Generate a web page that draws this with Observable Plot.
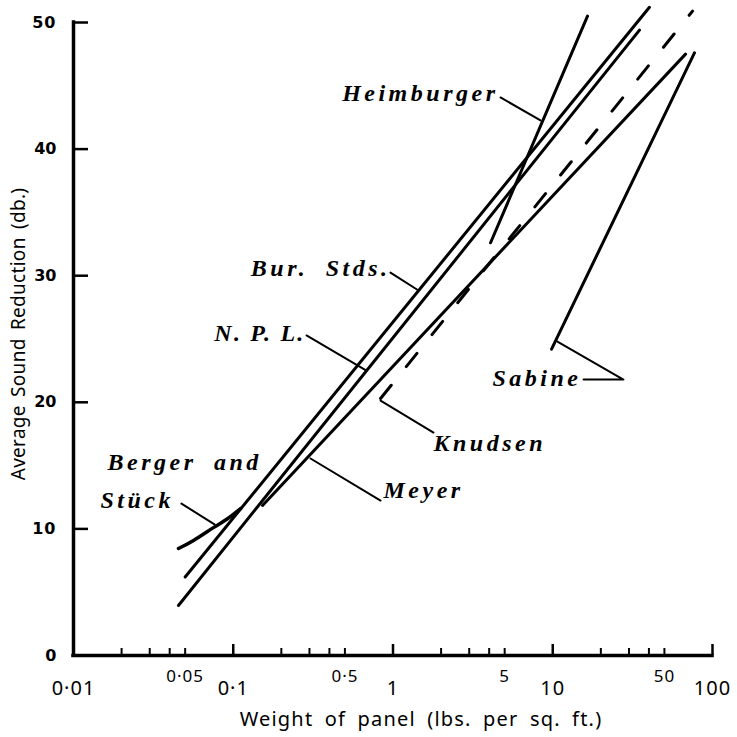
<!DOCTYPE html>
<html><head><meta charset="utf-8">
<script src="https://cdn.jsdelivr.net/npm/d3@7"></script>
<script src="https://cdn.jsdelivr.net/npm/@observablehq/plot@0.6"></script>
<style>
body{margin:0;background:#fff}
#chart svg{display:block}
</style>
</head><body><div id="chart"></div>
<script>
// ---- ticks ----
const xMajorTicks = [0.01, 0.1, 1, 10, 100];
const xMajorLabels = ["0·01", "0·1", "1", "10", "100"];
const xHalfTicks = [0.05, 0.5, 5, 50];
const xHalfLabels = ["0·05", "0·5", "5", "50"];
const xMinorTicks = [0.02, 0.03, 0.04, 0.05, 0.2, 0.3, 0.4, 0.5, 2, 3, 4, 5, 20, 30, 40, 50];
const yTicks = [0, 10, 20, 30, 40, 50];
const xTitle = "Weight of panel (lbs. per sq. ft.)";
const yTitle = "Average Sound Reduction (db.)";

// ---- series: [weight (lbs/sq ft), reduction (db)] ----
const burStds    = [[0.050, 6.2], [40.3, 51.2]];
const npl        = [[0.0454, 3.95], [34.9, 49.4]];
const meyer      = [[0.1525, 11.85], [67.8, 47.5]];
const knudsen    = [[0.836, 20.3], [75, 50.9]];
const heimburger = [[4.08, 32.6], [16.5, 50.5]];
const sabine     = [[9.83, 24.2], [77.1, 47.6]];
const berger     = [[0.0454, 8.45], [0.0564, 9.08], [0.0752, 10.1], [0.092, 10.8], [0.111, 11.6]];

// ---- labels ----
const endLabels  = ["Heimburger", "Bur. Stds.", "N. P. L.", "Sabine"];
const endLabelX  = [4.38, 0.924, 0.2714, 14.49];
const endLabelY  = [44.4, 30.57, 25.43, 21.88];
const startLabels = ["Berger and", "Stück", "Meyer", "Knudsen"];
const startLabelX = [0.01633, 0.01476, 0.872, 1.793];
const startLabelY = [15.24, 12.24, 13.03, 16.75];

// ---- leader lines ----
const leaderHeimburger = [[4.71, 44.08], [8.38, 42.26]];
const leaderBur        = [[0.964, 30.25], [1.445, 28.83]];
const leaderNpl        = [[0.2874, 25.28], [0.682, 22.51]];
const leaderBerger     = [[0.0474, 12.0], [0.0763, 10.35]];
const leaderMeyer      = [[0.836, 12.24], [0.3045, 15.56]];
const leaderKnudsen    = [[1.793, 17.61], [0.836, 20.14]];
const leaderSabine     = [[15.58, 21.8], [27.7, 21.8], [10.7, 24.8]];

const W = 737, H = 737, mL = 73, mR = 25, mT = 22, mB = 82;
const innerW = W - mL - mR, innerH = H - mT - mB;

const solid = [burStds, npl, meyer, heimburger, sabine];
const leaders = [leaderHeimburger, leaderBur, leaderNpl, leaderBerger, leaderMeyer, leaderKnudsen, leaderSabine];

const lineOpts = {x: d => d[0], y: d => d[1], stroke: "black", strokeWidth: 3, strokeLinecap: "round"};
const serifFont = "'Liberation Serif', 'DejaVu Serif', serif";
const sansFont = "'Noto Sans', 'DejaVu Sans', sans-serif";
const labelFont = {fontFamily: serifFont, fontStyle: "italic", fontWeight: "bold", fontSize: 24};

const chart = Plot.plot({
  width: W, height: H,
  marginLeft: mL, marginRight: mR, marginTop: mT, marginBottom: mB,
  style: {background: "white", color: "black"},
  x: {type: "log", domain: [0.01, 100], axis: null},
  y: {domain: [0, 50], axis: null},
  marks: [
    // frame
    Plot.ruleX([0.01], {y1: 0, y2: 50, strokeWidth: 3.5, strokeLinecap: "square"}),
    Plot.ruleY([0], {x1: 0.01, x2: 100, strokeWidth: 3.5, strokeLinecap: "square"}),
    // ticks
    Plot.tickY(yTicks.filter(d => d > 0), {y: d => d, insetRight: innerW - 15, strokeWidth: 2.5}),
    Plot.tickX(xMajorTicks.filter(d => d > 0.01), {x: d => d, insetTop: innerH - 11, strokeWidth: 2.5}),
    Plot.tickX(xMinorTicks, {x: d => d, insetTop: innerH - 7, strokeWidth: 2}),
    // tick labels
    Plot.text(yTicks, {y: d => d, text: d => String(d), frameAnchor: "left", dx: -17, textAnchor: "end", lineAnchor: "middle",
      fontFamily: "'DejaVu Sans', sans-serif", fontWeight: "bold", fontSize: 16}),
    Plot.text(xMajorTicks, {x: d => d, text: (d, i) => xMajorLabels[i], frameAnchor: "bottom", dy: 33, lineAnchor: "middle",
      fontFamily: sansFont, fontSize: 20}),
    Plot.text(xHalfTicks, {x: d => d, text: (d, i) => xHalfLabels[i], frameAnchor: "bottom", dy: 21, lineAnchor: "middle",
      fontFamily: sansFont, fontSize: 17}),
    // axis titles
    Plot.text([xTitle], {frameAnchor: "bottom", dx: 28, dy: 64, textAnchor: "middle", lineAnchor: "middle",
      fontFamily: sansFont, fontSize: 20}),
    Plot.text([yTitle], {frameAnchor: "left", dx: -55, dy: -5, rotate: -90, textAnchor: "middle", lineAnchor: "middle",
      fontFamily: sansFont, fontSize: 19}),
    // series
    ...solid.map(s => Plot.line(s, lineOpts)),
    Plot.line(knudsen, {...lineOpts, strokeDasharray: "17,24"}),
    Plot.line(berger, {...lineOpts, strokeWidth: 3.5, curve: "natural"}),
    // leaders
    ...leaders.map(s => Plot.line(s, {x: d => d[0], y: d => d[1], stroke: "black", strokeWidth: 2})),
    // labels
    Plot.text(endLabels, {x: (d, i) => endLabelX[i], y: (d, i) => endLabelY[i], text: d => d, textAnchor: "end", dx: 3, ...labelFont}),
    Plot.text(startLabels, {x: (d, i) => startLabelX[i], y: (d, i) => startLabelY[i], text: d => d, textAnchor: "start", ...labelFont})
  ]
});

// typographic spacing (style only)
chart.querySelectorAll('g[font-style="italic"] text').forEach(t => {
  const tight = t.textContent === "N. P. L.";
  t.style.letterSpacing = tight ? "2.2px" : "3.5px";
  t.style.wordSpacing = tight ? "0px" : "8px";
});
chart.querySelectorAll('text').forEach(t => {
  if (t.textContent === xTitle) { t.style.letterSpacing = "1.2px"; t.style.wordSpacing = "5px"; }
  if (t.textContent === yTitle) { t.style.letterSpacing = "0.3px"; t.style.wordSpacing = "3px"; }
  if (xMajorLabels.includes(t.textContent) || xHalfLabels.includes(t.textContent)) t.style.letterSpacing = "1px";
});
document.getElementById("chart").appendChild(chart);
</script>
</body></html>
